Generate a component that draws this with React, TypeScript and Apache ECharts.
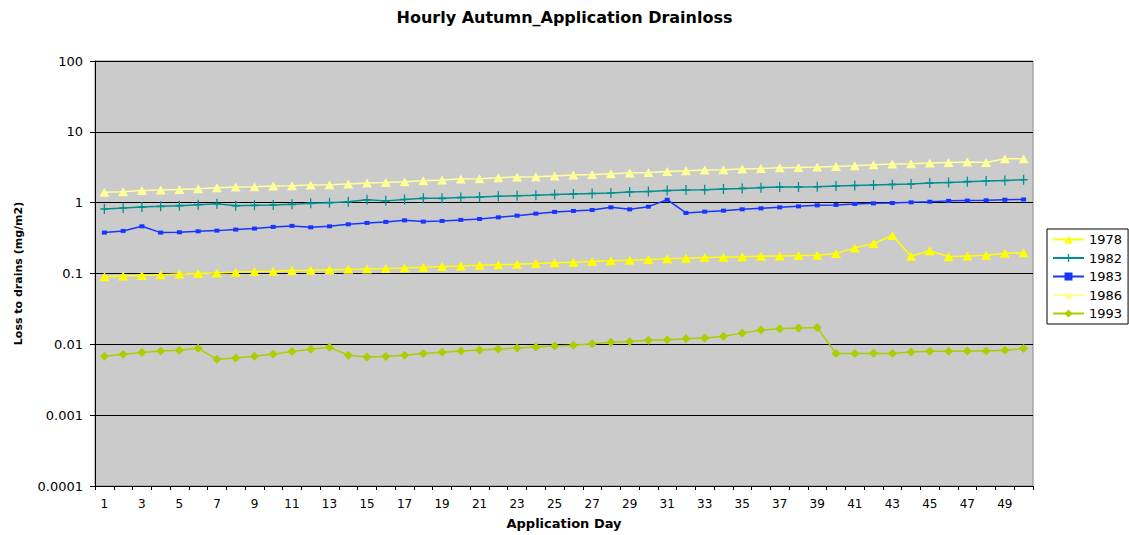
import React, { useEffect, useRef } from "react";
import * as echarts from "echarts";

const days: string[] = Array.from({ length: 50 }, (_, i) => String(i + 1));

const seriesNames = ["1978", "1982", "1983", "1986", "1993"];

const d1978 = [0.090, 0.092, 0.094, 0.096, 0.098, 0.100, 0.102, 0.104, 0.107, 0.108, 0.110, 0.111, 0.113, 0.115, 0.116, 0.118, 0.120,
  0.123, 0.126, 0.128, 0.131, 0.133, 0.135, 0.138, 0.142, 0.144, 0.148, 0.151, 0.154, 0.157, 0.161, 0.164, 0.168,
  0.170, 0.172, 0.175, 0.177, 0.179, 0.181, 0.191, 0.230, 0.265, 0.343, 0.175, 0.209, 0.173, 0.177, 0.181, 0.193, 0.196];

const d1982 = [0.815, 0.842, 0.870, 0.887, 0.907, 0.937, 0.968, 0.907, 0.916, 0.928, 0.946, 0.978, 1.00, 1.03, 1.10, 1.06, 1.11,
  1.15, 1.15, 1.18, 1.20, 1.23, 1.25, 1.27, 1.30, 1.33, 1.35, 1.37, 1.42, 1.44, 1.48, 1.51, 1.52,
  1.56, 1.59, 1.63, 1.66, 1.66, 1.68, 1.72, 1.75, 1.78, 1.81, 1.83, 1.89, 1.93, 1.98, 2.02, 2.06, 2.11];

const d1983 = [0.378, 0.399, 0.464, 0.378, 0.382, 0.394, 0.403, 0.417, 0.431, 0.455, 0.470, 0.449, 0.464, 0.495, 0.518, 0.535, 0.563,
  0.540, 0.552, 0.571, 0.589, 0.621, 0.656, 0.700, 0.740, 0.764, 0.789, 0.859, 0.805, 0.878, 1.10, 0.716, 0.747,
  0.771, 0.805, 0.831, 0.859, 0.887, 0.916, 0.928, 0.959, 0.978, 0.990, 1.01, 1.03, 1.06, 1.07, 1.08, 1.10, 1.11];

const d1986 = [1.40, 1.43, 1.48, 1.51, 1.54, 1.57, 1.63, 1.66, 1.68, 1.72, 1.74, 1.78, 1.79, 1.83, 1.89, 1.93, 1.98,
  2.04, 2.09, 2.16, 2.18, 2.25, 2.30, 2.32, 2.38, 2.46, 2.50, 2.56, 2.62, 2.67, 2.76, 2.82, 2.89,
  2.92, 2.98, 3.04, 3.11, 3.14, 3.18, 3.25, 3.32, 3.43, 3.51, 3.54, 3.62, 3.70, 3.74, 3.70, 4.17, 4.17];

const d1993 = [0.00678, 0.00723, 0.00764, 0.00805, 0.00823, 0.00879, 0.00615, 0.00641, 0.00678, 0.00730, 0.00789, 0.00851, 0.00908,
  0.00700, 0.00662, 0.00671, 0.00700, 0.00740, 0.00771, 0.00805, 0.00832, 0.00859, 0.00887, 0.00916, 0.00946,
  0.00968, 0.0102, 0.0107, 0.0110, 0.0114, 0.0116, 0.0120, 0.0123, 0.0130, 0.0144, 0.0159, 0.0166, 0.0170, 0.0173,
  0.00740, 0.00740, 0.00747, 0.00740, 0.00779, 0.00797, 0.00797, 0.00805, 0.00805, 0.00823, 0.00870];

const seriesData = [d1978, d1982, d1983, d1986, d1993];

const FONT = "DejaVu Sans";
const PLUS = "path://M4.2,0H5.8V4.2H10V5.8H5.8V10H4.2V5.8H0V4.2H4.2Z";

export default function App() {
  const ref = useRef<HTMLDivElement>(null);
  useEffect(() => {
    if (!ref.current) return;
    const chart = echarts.init(ref.current, null, { renderer: "svg" });
    const styles = [
      { color: "#ffff00", symbol: "triangle", symbolSize: [10, 9] },
      { color: "#009090", symbol: PLUS, symbolSize: [8, 10] },
      { color: "#1436ff", symbol: "rect", symbolSize: [5, 4] },
      { color: "#ffff99", symbol: "triangle", symbolSize: [10, 9] },
      { color: "#a8d000", symbol: "diamond", symbolSize: [9, 9] },
    ];
    chart.setOption({
      animation: false,
      backgroundColor: "#ffffff",
      textStyle: { fontFamily: FONT, color: "#000" },
      title: {
        text: "Hourly Autumn_Application Drainloss",
        left: "center",
        top: 9,
        padding: 0,
        textStyle: { fontFamily: FONT, fontWeight: "bold", fontSize: 16, color: "#000" },
      },
      legend: {
        orient: "vertical",
        left: 1047,
        top: 229,
        padding: [4, 6, 4, 5],
        itemGap: 5.5,
        itemWidth: 31,
        itemHeight: 10,
        backgroundColor: "#ffffff",
        borderColor: "#000000",
        borderWidth: 1,
        borderRadius: 0,
        data: seriesNames,
        textStyle: { fontFamily: FONT, fontSize: 13, color: "#000" },
      },
      grid: {
        left: 95,
        right: 96,
        top: 61,
        bottom: 48,
        show: true,
        backgroundColor: "#cbcbcb",
        borderColor: "#8a8a8a",
        borderWidth: 1,
      },
      xAxis: {
        type: "category",
        data: days,
        boundaryGap: true,
        name: "Application Day",
        nameLocation: "middle",
        nameGap: 31,
        nameTextStyle: { fontFamily: FONT, fontWeight: "bold", fontSize: 13, color: "#000" },
        axisLine: { lineStyle: { color: "#000", width: 1 } },
        axisTick: { show: true, interval: 0, length: 4, lineStyle: { color: "#000" } },
        axisLabel: { interval: 1, margin: 12, fontFamily: FONT, fontSize: 12, color: "#000" },
        splitLine: { show: false },
      },
      yAxis: {
        type: "log",
        logBase: 10,
        min: 0.0001,
        max: 100,
        name: "Loss to drains (mg/m2)",
        nameLocation: "middle",
        nameGap: 71,
        nameTextStyle: { fontFamily: FONT, fontWeight: "bold", fontSize: 11, color: "#000" },
        axisLine: { show: true, lineStyle: { color: "#000", width: 1 } },
        axisTick: { show: true, length: 5, lineStyle: { color: "#000" } },
        axisLabel: {
          margin: 12,
          fontFamily: FONT,
          fontSize: 13,
          color: "#000",
          formatter: (v: number) => String(parseFloat(Number(v).toPrecision(6))),
        },
        splitLine: { show: true, lineStyle: { color: "#000", width: 1 } },
        minorTick: { show: false },
      },
      series: seriesNames.map((name, i) => ({
        name,
        type: "line",
        data: seriesData[i],
        symbol: styles[i].symbol,
        symbolSize: styles[i].symbolSize,
        showAllSymbol: true,
        lineStyle: { color: styles[i].color, width: 1.5 },
        itemStyle: { color: styles[i].color, borderWidth: 0 },
        emphasis: { disabled: true },
      })),
    });
    return () => chart.dispose();
  }, []);
  return (
    <div
      ref={ref}
      style={{ position: "fixed", left: 0, top: 0, width: 1129, height: 535 }}
    />
  );
}
